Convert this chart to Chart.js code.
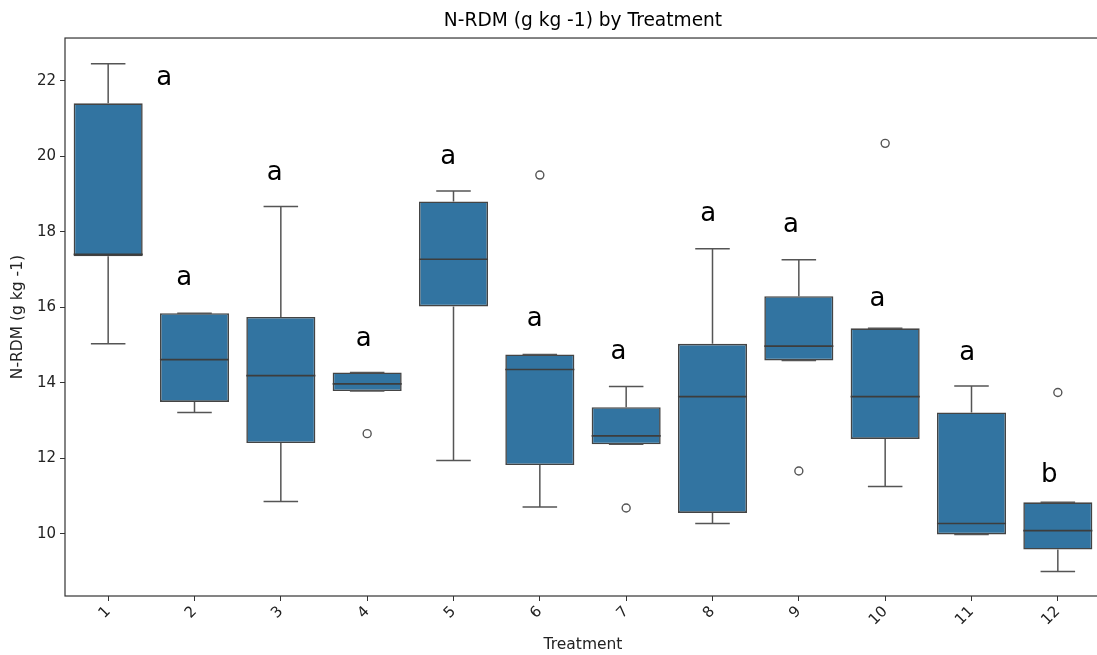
<!DOCTYPE html>
<html>
<head>
<meta charset="utf-8">
<script src="https://cdn.jsdelivr.net/npm/chart.js@4"></script>
<style>
  html, body { margin: 0; padding: 0; background: #fff; overflow: hidden; }
  /* the reference axes run a few pixels past the right edge of the picture */
  #wrap { width: 1101px; height: 655px; }
</style>
</head>
<body>
<div id="wrap"><canvas id="boxChart"></canvas></div>
<script>
// Treatment groups
const treatments = ['1', '2', '3', '4', '5', '6', '7', '8', '9', '10', '11', '12'];

// Box statistics (g kg -1)
const q1Values     = [17.35, 13.49, 12.40, 13.78, 16.02, 11.82, 12.37, 10.55, 14.59, 12.51,  9.98,  9.58];
const q3Values     = [21.40, 15.84, 15.74, 14.27, 18.80, 14.75, 13.35, 15.03, 16.29, 15.44, 13.21, 10.83];
const medianValues = [17.40, 14.61, 14.19, 13.97, 17.27, 14.35, 12.59, 13.63, 14.97, 13.63, 10.27, 10.08];
const whiskerLow   = [15.03, 13.21, 10.85, 13.78, 11.94, 10.71, 12.37, 10.27, 14.59, 11.25,  9.98,  9.00];
const whiskerHigh  = [22.45, 15.84, 18.67, 14.27, 19.08, 14.75, 13.90, 17.55, 17.26, 15.44, 13.91, 10.83];

// Outliers
const outlierGroups = ['4', '6', '7', '9', '10', '12'];
const outlierValues = [12.65, 19.50, 10.68, 11.66, 20.34, 13.74];

// Significance letters (x in category index units, y in data units at baseline)
const sigLetters = ['a', 'a', 'a', 'a', 'a', 'a', 'a', 'a', 'a', 'a', 'a', 'b'];
const letterX    = [0.65, 0.88, 1.93, 2.96, 3.94, 4.94, 5.91, 6.95, 7.91, 8.91, 9.95, 10.90];
const letterY    = [21.89, 16.60, 19.38, 14.96, 19.80, 15.49, 14.64, 18.27, 17.98, 16.04, 14.59, 11.38];

const yTicks = [10, 12, 14, 16, 18, 20, 22];

const BOX_FILL = '#3274a1';
const LINE_GRAY = '#555555';
const EDGE_GRAY = '#444444';

// whiskers, caps, medians, letters and frame
const boxExtras = {
    id: 'boxExtras',
    afterDatasetsDraw(chart) {
        const ctx = chart.ctx;
        const x = chart.scales.x;
        const y = chart.scales.y;
        const meta = chart.getDatasetMeta(0);
        ctx.save();
        meta.data.forEach((bar, i) => {
            const cx = bar.x;
            const half = bar.width / 2;
            const capHalf = half / 2;
            const yQ1 = y.getPixelForValue(q1Values[i]);
            const yQ3 = y.getPixelForValue(q3Values[i]);
            const yLo = y.getPixelForValue(whiskerLow[i]);
            const yHi = y.getPixelForValue(whiskerHigh[i]);
            ctx.strokeStyle = LINE_GRAY;
            ctx.lineWidth = 1.5;
            ctx.beginPath();
            if (whiskerHigh[i] > q3Values[i]) {
                ctx.moveTo(cx, yQ3); ctx.lineTo(cx, yHi);
            }
            if (whiskerLow[i] < q1Values[i]) {
                ctx.moveTo(cx, yQ1); ctx.lineTo(cx, yLo);
            }
            ctx.moveTo(cx - capHalf, yHi); ctx.lineTo(cx + capHalf, yHi);
            ctx.moveTo(cx - capHalf, yLo); ctx.lineTo(cx + capHalf, yLo);
            ctx.stroke();
            // median
            const yMed = y.getPixelForValue(medianValues[i]);
            ctx.strokeStyle = '#3d3d3d';
            ctx.lineWidth = 1.7;
            ctx.beginPath();
            ctx.moveTo(cx - half, yMed); ctx.lineTo(cx + half, yMed);
            ctx.stroke();
        });
        // letters
        ctx.fillStyle = '#000';
        ctx.font = '26px "DejaVu Sans"';
        ctx.textAlign = 'center';
        ctx.textBaseline = 'alphabetic';
        sigLetters.forEach((txt, i) => {
            ctx.fillText(txt, x.getPixelForValue(letterX[i]), y.getPixelForValue(letterY[i]));
        });
        // axes frame
        const a = chart.chartArea;
        ctx.strokeStyle = '#333';
        ctx.lineWidth = 1.2;
        ctx.strokeRect(a.left, a.top, a.right - a.left, a.bottom - a.top);
        ctx.restore();
    }
};

const ctx = document.getElementById('boxChart').getContext('2d');
new Chart(ctx, {
    type: 'bar',
    data: {
        labels: treatments,
        datasets: [
            {
                label: 'N-RDM',
                data: q1Values.map((v, i) => [v, q3Values[i]]),
                backgroundColor: BOX_FILL,
                borderColor: EDGE_GRAY,
                borderWidth: 1.6,
                borderSkipped: false,
                categoryPercentage: 0.8,
                barPercentage: 1.0
            },
            {
                type: 'line',
                label: 'Outliers',
                data: outlierGroups.map((g, i) => ({ x: g, y: outlierValues[i] })),
                showLine: false,
                pointStyle: 'circle',
                pointRadius: 4,
                pointBackgroundColor: 'rgba(255,255,255,0)',
                pointBorderColor: LINE_GRAY,
                pointBorderWidth: 1.4
            }
        ]
    },
    options: {
        responsive: true,
        maintainAspectRatio: false,
        animation: false,
        layout: { autoPadding: false, padding: 0 },
        plugins: {
            legend: { display: false },
            tooltip: { enabled: false },
            title: {
                display: true,
                fullSize: false,
                text: 'N-RDM (g kg -1) by Treatment',
                color: '#000',
                font: { family: 'DejaVu Sans', size: 18.6, weight: 'normal' },
                padding: { top: 10, bottom: 5.7 }
            }
        },
        scales: {
            x: {
                offset: true,
                grid: { display: true, drawOnChartArea: false, drawTicks: true, tickLength: 5, color: '#333', offset: false },
                border: { display: false },
                ticks: { color: '#222', font: { family: 'DejaVu Sans', size: 15 }, minRotation: 45, maxRotation: 45, padding: 2 },
                title: { display: true, text: 'Treatment', color: '#222', font: { family: 'DejaVu Sans', size: 15.5 }, padding: { top: 0, bottom: 1 } },
                afterFit(scale) {
                    scale.height = 59;
                    scale.paddingLeft = 0;
                    scale.paddingRight = 0;
                }
            },
            y: {
                min: 8.35,
                max: 23.13,
                grid: { display: true, drawOnChartArea: false, drawTicks: true, tickLength: 5, color: '#333' },
                border: { display: false },
                ticks: { color: '#222', font: { family: 'DejaVu Sans', size: 15 }, padding: 4 },
                afterBuildTicks(scale) { scale.ticks = yTicks.map(v => ({ value: v })); },
                title: { display: true, text: 'N-RDM (g kg -1)', color: '#222', font: { family: 'DejaVu Sans', size: 15.5 }, padding: { top: 9, bottom: 0 } },
                afterFit(scale) { scale.width = 65; }
            }
        }
    },
    plugins: [boxExtras]
});
</script>
</body>
</html>
